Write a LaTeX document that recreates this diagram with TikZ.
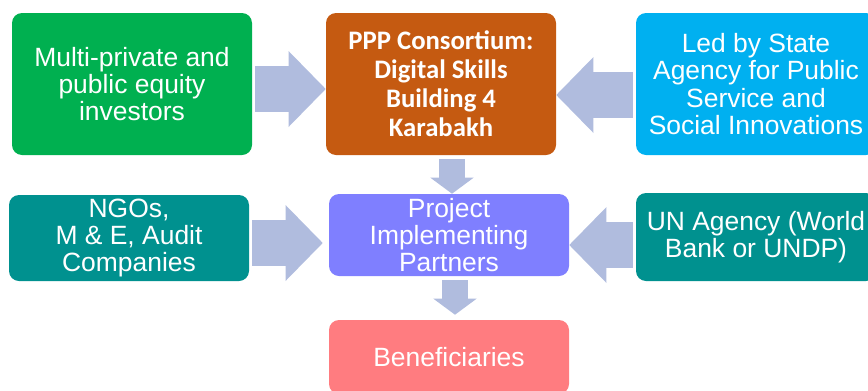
\documentclass[tikz,border=0pt]{standalone}
\usepackage{fontspec}
\setmainfont{Liberation Sans}
\newfontfamily\calibri{Carlito}
\usetikzlibrary{arrows.meta}

\definecolor{investgreen}{HTML}{00B050}
\definecolor{pppbrown}{HTML}{C55A11}
\definecolor{statecyan}{HTML}{00B0F0}
\definecolor{partnerteal}{HTML}{00918F}
\definecolor{pipviolet}{HTML}{7F7FFF}
\definecolor{benred}{HTML}{FF7C80}
\definecolor{arrowgray}{HTML}{B0BCDE}

\begin{document}
\begin{tikzpicture}[
    box/.style={rectangle, rounded corners=0.25cm, text=white, align=center,
        inner sep=0pt, font=\fontsize{18.8}{19.3}\selectfont},
    fatarrow/.style={draw=arrowgray, line width=1.15cm, shorten <=0.075cm,
        -{Triangle[length=0.93cm, width=1.9cm, line width=0pt 0]}},
    downarrow/.style={draw=arrowgray, line width=0.65cm, shorten <=0.1cm,
        -{Triangle[length=0.4cm, width=1.08cm, line width=0pt 0]}}]
    \useasboundingbox (0,0) rectangle (21.7,-9.75);
    \clip (0,0) rectangle (21.7,-9.75);

    % top row
    \node[box, fill=investgreen, minimum width=6cm, minimum height=3.55cm] (inv) at (3.3,-2.1)
        {Multi-private and\\public equity\\investors};
    \node[box, fill=pppbrown, minimum width=5.75cm, minimum height=3.55cm,
        font=\calibri\bfseries\fontsize{19}{20.6}\selectfont] (ppp) at (11.025,-2.1)
        {PPP Consortium:\\Digital Skills\\Building 4\\Karabakh};
    \node[box, fill=statecyan, minimum width=6cm, minimum height=3.55cm] (state) at (18.9,-2.1)
        {Led by State\\Agency for Public\\Service and\\Social Innovations};

    % middle row
    \node[box, fill=partnerteal, minimum width=6cm, minimum height=2.15cm] (ngo) at (3.225,-5.95)
        {NGOs,\\M \& E, Audit\\Companies};
    \node[box, fill=pipviolet, minimum width=6cm, minimum height=2.05cm] (pip) at (11.225,-5.875)
        {Project\\Implementing\\Partners};
    \node[box, fill=partnerteal, minimum width=6cm, minimum height=2.2cm] (un) at (18.9,-5.925)
        {UN Agency (World\\Bank or UNDP)};

    % bottom
    \node[box, fill=benred, minimum width=6cm, minimum height=1.85cm] (ben) at (11.225,-8.925)
        {Beneficiaries};

    % block arrows
    \draw[fatarrow] ([yshift=-0.125cm]inv.east) -- ([yshift=-0.125cm]inv.east -| ppp.west);
    \draw[fatarrow] ([yshift=-0.275cm]state.west) -- ([yshift=-0.275cm]state.west -| ppp.east);
    \draw[downarrow] ([xshift=0.275cm]ppp.south) -- ([xshift=0.275cm]ppp.south |- pip.north);
    \draw[fatarrow, shorten >=0.15cm] ([yshift=-0.125cm]ngo.east) -- ([yshift=-0.125cm]ngo.east -| pip.west);
    \draw[fatarrow] ([yshift=-0.2cm]un.west) -- ([yshift=-0.2cm]un.west -| pip.east);
    \draw[downarrow, shorten >=0.125cm] ([xshift=0.15cm]pip.south) -- ([xshift=0.15cm]pip.south |- ben.north);
\end{tikzpicture}
\end{document}
